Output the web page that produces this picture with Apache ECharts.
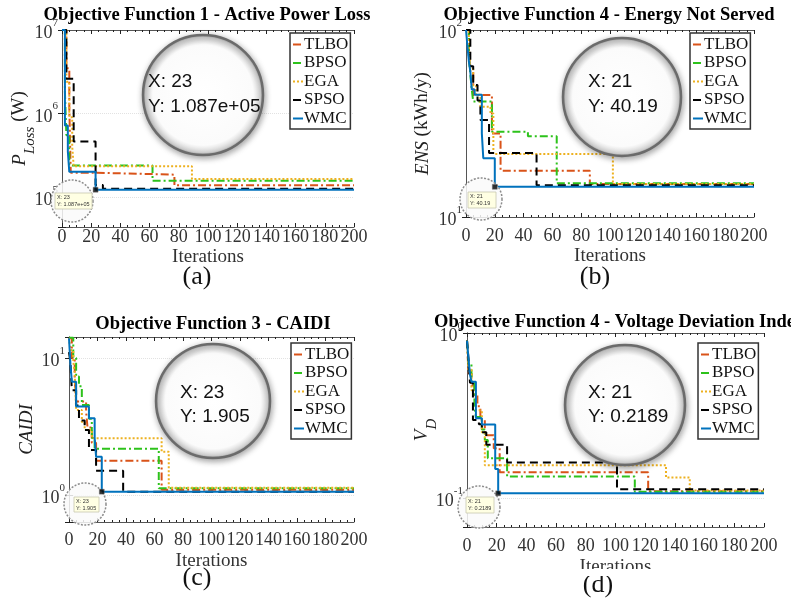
<!DOCTYPE html>
<html>
<head>
<meta charset="utf-8">
<script src="https://cdn.jsdelivr.net/npm/echarts@6/dist/echarts.min.js"></script>
<style>
  html, body { margin: 0; padding: 0; background: #fff; }
  #chart { width: 791px; height: 601px; }
</style>
</head>
<body>
<div id="chart"></div>
<script>
// methods, drawn in this order (WMC last so it sits on top)
const methods = ['TLBO', 'BPSO', 'EGA', 'SPSO', 'WMC']
const methodColors = ['#D95319', '#2DC21B', '#EDB120', '#000000', '#0072BD']
const methodDash = [[8, 3, 2, 3], [8, 3, 2, 3], [2, 2], [8, 5], 'solid']

const iterMin = 0, iterMax = 200, iterStep = 20

// (a) active power loss (W) - [iteration where value starts, value]
const lossTLBO = [[0, 1e7], [3, 3.47e6], [5, 1.2e6], [6, 1.95e5], [23, 1.85e5], [77, 1.38e5], [200, 1.38e5]]
const lossBPSO = [[0, 1e7], [2, 1.8e6], [3, 5.5e5], [5, 2.38e5], [62, 1.56e5], [200, 1.56e5]]
const lossEGA = [[0, 1e7], [3, 2.4e6], [5, 9e5], [7, 4e5], [8, 2.33e5], [89, 1.64e5], [200, 1.64e5]]
const lossSPSO = [[0, 1e7], [3, 2.6e6], [8, 4.6e5], [23, 1.39e5], [28, 1.25e5], [200, 1.25e5]]
const lossWMC = [[0, 1e7], [2, 7.2e5], [4, 3.5e5], [5, 2.0e5], [23, 1.22e5], [200, 1.22e5]]
const lossRange = [43650, 1e7]
const lossTip = [23, 1.22e5]
const lossTipText = ['X: 23', 'Y: 1.087e+05']

// (b) energy not served (kWh/y)
const ensTLBO = [[0, 100], [2, 75], [3, 60], [5, 44.9], [18, 28], [24, 17.7], [86, 15.0], [200, 15.0]]
const ensBPSO = [[0, 100], [2, 72], [3, 58], [4, 48], [5, 41.4], [18, 28.6], [43, 27], [63, 15.15], [200, 15.15]]
const ensEGA = [[0, 100], [2, 80], [3, 62], [5, 50], [7, 45], [10, 38.9], [17, 35.8], [19, 21.7], [102, 15.0], [200, 15.0]]
const ensSPSO = [[0, 100], [3, 64], [5, 50.8], [8, 42], [10, 33], [16, 22], [49, 14.8], [200, 14.8]]
const ensWMC = [[0, 100], [1, 82], [2, 68], [3, 60], [4, 48], [6, 45], [11, 28], [12, 20.6], [20, 14.5], [200, 14.5]]
const ensRange = [10, 100]
const ensTip = [20, 14.5]
const ensTipText = ['X: 21', 'Y: 40.19']

// (c) CAIDI
const caidiTLBO = [[0, 13.9], [2, 10], [4, 7], [5, 4.8], [12, 4.06], [13, 3.1], [16, 2.4], [19, 1.78], [65, 1.09], [200, 1.09]]
const caidiBPSO = [[0, 14], [3, 10], [5, 7.3], [7, 6.2], [9, 4.54], [14, 3.6], [16, 2.6], [18, 2.17], [63, 1.12], [200, 1.12]]
const caidiEGA = [[0, 14], [1, 11.4], [3, 9.5], [4, 7.8], [5, 4.17], [9, 3.4], [11, 2.98], [16, 2.59], [65, 2.07], [70, 1.13], [200, 1.13]]
const caidiSPSO = [[0, 11], [1, 9.2], [2, 5.8], [5, 4.5], [7, 3.5], [11, 2.98], [14, 2.13], [19, 1.5], [38, 1.057], [200, 1.057]]
const caidiWMC = [[0, 13.9], [1, 9], [2, 6.7], [5, 4.42], [14, 3.63], [18, 2.6], [19, 1.9], [23, 1.057], [200, 1.057]]
const caidiRange = [0.635, 14.2]
const caidiTip = [23, 1.057]
const caidiTipText = ['X: 23', 'Y: 1.905']

// (d) voltage deviation index
const vdTLBO = [[0, 0.9], [1, 0.57], [3, 0.48], [5, 0.42], [7, 0.36], [9, 0.3], [12, 0.24], [18, 0.2], [22, 0.143], [122, 0.110], [200, 0.110]]
const vdBPSO = [[0, 0.9], [1, 0.65], [3, 0.5], [5, 0.36], [6, 0.31], [10, 0.26], [12, 0.225], [14, 0.174], [27, 0.135], [113, 0.109], [200, 0.109]]
const vdEGA = [[0, 0.9], [1, 0.6], [3, 0.45], [6, 0.34], [10, 0.25], [12, 0.158], [134, 0.133], [150, 0.111], [200, 0.111]]
const vdSPSO = [[0, 0.9], [1, 0.7], [2, 0.5], [4, 0.297], [8, 0.28], [10, 0.25], [13, 0.21], [27, 0.164], [101, 0.113], [200, 0.113]]
const vdWMC = [[0, 0.9], [1, 0.7], [2, 0.56], [3, 0.507], [6, 0.304], [10, 0.279], [19, 0.15], [21, 0.1067], [200, 0.1067]]
const vdRange = [0.0667, 1]
const vdTip = [21, 0.1067]
const vdTipText = ['X: 21', 'Y: 0.2189']

const SERIF = '"Liberation Serif", "Times New Roman", serif'
const SANS = '"Liberation Sans", Arial, sans-serif'

// layout of the four panels
const panels = [
  { grid: { left: 62, top: 30, width: 292, height: 197 }, sets: [lossTLBO, lossBPSO, lossEGA, lossSPSO, lossWMC], range: lossRange, tip: lossTip,
    yName: '{i|P}{s|Loss}{n| (W)}', yGap: 24, xMargin: 1, xGap: 21, legend: [290, 33],
    title: ['Objective Function 1 - Active Power Loss', 207, 15, 'center'], cap: ['(a)', 197, 277],
    lens: [203, 95, 60, 148, 82, 107], dot: [72, 201, 21, 55, 193, 37, 16], tipText: lossTipText },
  { grid: { left: 466, top: 30, width: 288, height: 187 }, sets: [ensTLBO, ensBPSO, ensEGA, ensSPSO, ensWMC], range: ensRange, tip: ensTip,
    yName: '{i|ENS}{n| (kWh/y)}', yGap: 25, xMargin: 10, xGap: 30, legend: [690, 33],
    title: ['Objective Function 4 - Energy Not Served', 609, 15, 'center'], cap: ['(b)', 595, 277],
    lens: [622, 97, 59, 588, 82, 107], dot: [481, 199, 21, 468, 192, 28, 16], tipText: ensTipText },
  { grid: { left: 69, top: 337, width: 285, height: 185 }, sets: [caidiTLBO, caidiBPSO, caidiEGA, caidiSPSO, caidiWMC], range: caidiRange, tip: caidiTip,
    yName: '{i|CAIDI}', yGap: 24, xMargin: 9, xGap: 30, legend: [291, 343],
    title: ['Objective Function 3 - CAIDI', 213, 324, 'center'], cap: ['(c)', 197, 578],
    lens: [213, 401, 57, 180, 393, 417], dot: [85, 504, 21, 74, 497, 25, 15], tipText: caidiTipText },
  { grid: { left: 467, top: 333, width: 297, height: 194 }, sets: [vdTLBO, vdBPSO, vdEGA, vdSPSO, vdWMC], range: vdRange, tip: vdTip,
    yName: '{i|V}{s|D}', yGap: 27, xMargin: 10, xGap: 31, legend: [698, 343],
    title: ['Objective Function 4 - Voltage Deviation Index', 434, 322, 'left'], cap: ['(d)', 598, 585],
    lens: [625, 405, 60, 588, 393, 417], dot: [479, 507, 21, 466, 497, 28, 16], tipText: vdTipText }
]

// 10^n labels only on whole decades
const decadeLabel = (v) => {
  const l = Math.log10(v)
  const e = Math.round(l)
  if (Math.abs(l - e) > 1e-6) return ''
  return '{b|10}{e|' + e + '}'
}

const grids = [], xAxes = [], yAxes = [], series = [], legends = [], graphics = []

panels.forEach((p, gi) => {
  grids.push(p.grid)
  const xBase = {
    type: 'value', gridIndex: gi, min: iterMin, max: iterMax, interval: iterStep,
    axisLine: { lineStyle: { color: '#555', width: 1 } },
    axisTick: { inside: true, length: 4, lineStyle: { color: '#222' } },
    minorTick: { show: true, splitNumber: 4, length: 2, lineStyle: { color: '#222' } },
    splitLine: { show: false }
  }
  xAxes.push(Object.assign({}, xBase, {
    position: 'bottom',
    name: 'Iterations', nameLocation: 'middle', nameGap: p.xGap, nameMoveOverlap: false,
    nameTextStyle: { fontFamily: SERIF, fontSize: 19, color: '#333' },
    axisLabel: { fontFamily: SERIF, fontSize: 18, color: '#333', margin: p.xMargin }
  }))
  xAxes.push(Object.assign({}, xBase, { position: 'top', axisLabel: { show: false } }))

  const yBase = {
    type: 'log', logBase: 10, gridIndex: gi, min: p.range[0], max: p.range[1],
    axisLine: { show: true, lineStyle: { color: '#555', width: 1 } },
    axisTick: { show: true, inside: true, length: 4, lineStyle: { color: '#222' } }
  }
  yAxes.push(Object.assign({}, yBase, {
    position: 'left',
    name: p.yName, nameLocation: 'middle', nameRotate: 90, nameGap: p.yGap, nameMoveOverlap: false,
    nameTextStyle: {
      rich: {
        i: { fontFamily: SERIF, fontStyle: 'italic', fontSize: 19, color: '#222', lineHeight: 28, verticalAlign: 'top' },
        n: { fontFamily: SERIF, fontSize: 19, color: '#222', lineHeight: 28, verticalAlign: 'top' },
        s: { fontFamily: SERIF, fontStyle: 'italic', fontSize: 15, color: '#222', lineHeight: 15, verticalAlign: 'bottom' }
      }
    },
    splitLine: { show: true, lineStyle: { color: '#e2e2e2', type: 'dotted' } },
    axisLabel: {
      margin: 4, formatter: decadeLabel,
      rich: {
        b: { fontFamily: SERIF, fontSize: 18, color: '#333', lineHeight: 25, verticalAlign: 'bottom' },
        e: { fontFamily: SERIF, fontSize: 11, color: '#333', lineHeight: 12, verticalAlign: 'top' }
      }
    }
  }))
  yAxes.push(Object.assign({}, yBase, { position: 'right', axisLabel: { show: false }, splitLine: { show: false } }))

  methods.forEach((m, k) => {
    series.push({
      name: m, type: 'line', xAxisIndex: gi * 2, yAxisIndex: gi * 2,
      data: p.sets[k], step: 'end', symbol: 'none', silent: true,
      lineStyle: { color: methodColors[k], width: 2, type: methodDash[k] },
      itemStyle: { color: methodColors[k] },
      z: 2 + k
    })
  })
  // data tip marker
  series.push({
    type: 'scatter', xAxisIndex: gi * 2, yAxisIndex: gi * 2, data: [p.tip],
    symbol: 'rect', symbolSize: 5, silent: true, z: 200,
    itemStyle: { color: '#000', borderColor: '#777', borderWidth: 0.5 }
  })

  legends.push({
    data: methods, orient: 'vertical', left: p.legend[0], top: p.legend[1],
    itemWidth: 10, itemHeight: 8, itemGap: 1.5, padding: [3, 2, 2, 2],
    backgroundColor: '#fff', borderColor: '#333', borderWidth: 1.5,
    selectedMode: false,
    itemStyle: { opacity: 0 },
    textStyle: { fontFamily: SERIF, fontSize: 17, color: '#111', padding: [0, 0, 0, -4] }
  })

  graphics.push({
    type: 'text', x: p.title[1], y: p.title[2], z: 50,
    style: { text: p.title[0], font: 'bold 18.5px ' + SERIF, fill: '#000', align: p.title[3], verticalAlign: 'middle' }
  })
  graphics.push({
    type: 'text', x: p.cap[1], y: p.cap[2], z: 50,
    style: { text: p.cap[0], font: '26px ' + SERIF, fill: '#111', align: 'center', verticalAlign: 'middle' }
  })

  // big magnifier
  const L = p.lens
  graphics.push({
    type: 'circle', z: 100, shape: { cx: L[0], cy: L[1], r: L[2] },
    style: {
      fill: new echarts.graphic.RadialGradient(0.5, 0.5, 0.5, [
        { offset: 0, color: '#ffffff' }, { offset: 0.82, color: '#fbfbfb' },
        { offset: 0.94, color: '#d6d6d6' }, { offset: 1, color: '#8a8a8a' }
      ]),
      stroke: '#6b6b6b', lineWidth: 2.5,
      shadowBlur: 6, shadowColor: 'rgba(0,0,0,0.35)', shadowOffsetX: 1, shadowOffsetY: 2
    }
  })
  graphics.push({
    type: 'text', x: L[3], y: L[4], z: 101,
    style: { text: p.tipText[0], font: '19px ' + SANS, fill: '#111', align: 'left', verticalAlign: 'middle' }
  })
  graphics.push({
    type: 'text', x: L[3], y: L[5], z: 101,
    style: { text: p.tipText[1], font: '19px ' + SANS, fill: '#111', align: 'left', verticalAlign: 'middle' }
  })

  // small magnifier with the data tip box
  const D = p.dot
  graphics.push({
    type: 'circle', z: 100, shape: { cx: D[0], cy: D[1], r: D[2] },
    style: { fill: 'rgba(250,250,250,0.85)', stroke: '#8c8c8c', lineWidth: 1.5, lineDash: [2, 1.5] }
  })
  graphics.push({
    type: 'rect', z: 101, shape: { x: D[3], y: D[4], width: D[5], height: D[6] },
    style: { fill: '#ffffe3', stroke: '#c8c8b0', lineWidth: 0.8 }
  })
  graphics.push({
    type: 'text', x: D[3] + 2, y: D[4] + 4.5, z: 102,
    style: { text: p.tipText[0], font: '5.5px ' + SANS, fill: '#333', align: 'left', verticalAlign: 'middle' }
  })
  graphics.push({
    type: 'text', x: D[3] + 2, y: D[4] + 11.5, z: 102,
    style: { text: p.tipText[1], font: '5.5px ' + SANS, fill: '#333', align: 'left', verticalAlign: 'middle' }
  })
})

// the lower half of the last "Iterations" is cut off in the original
graphics.push({ type: 'rect', z: 60, shape: { x: 560, y: 569, width: 120, height: 7 }, style: { fill: '#fff' } })

const chart = echarts.init(document.getElementById('chart'), null, { renderer: 'canvas' })
chart.setOption({
  animation: false,
  backgroundColor: '#fff',
  grid: grids,
  xAxis: xAxes,
  yAxis: yAxes,
  legend: legends,
  series: series,
  graphic: { elements: graphics }
})
</script>
</body>
</html>
